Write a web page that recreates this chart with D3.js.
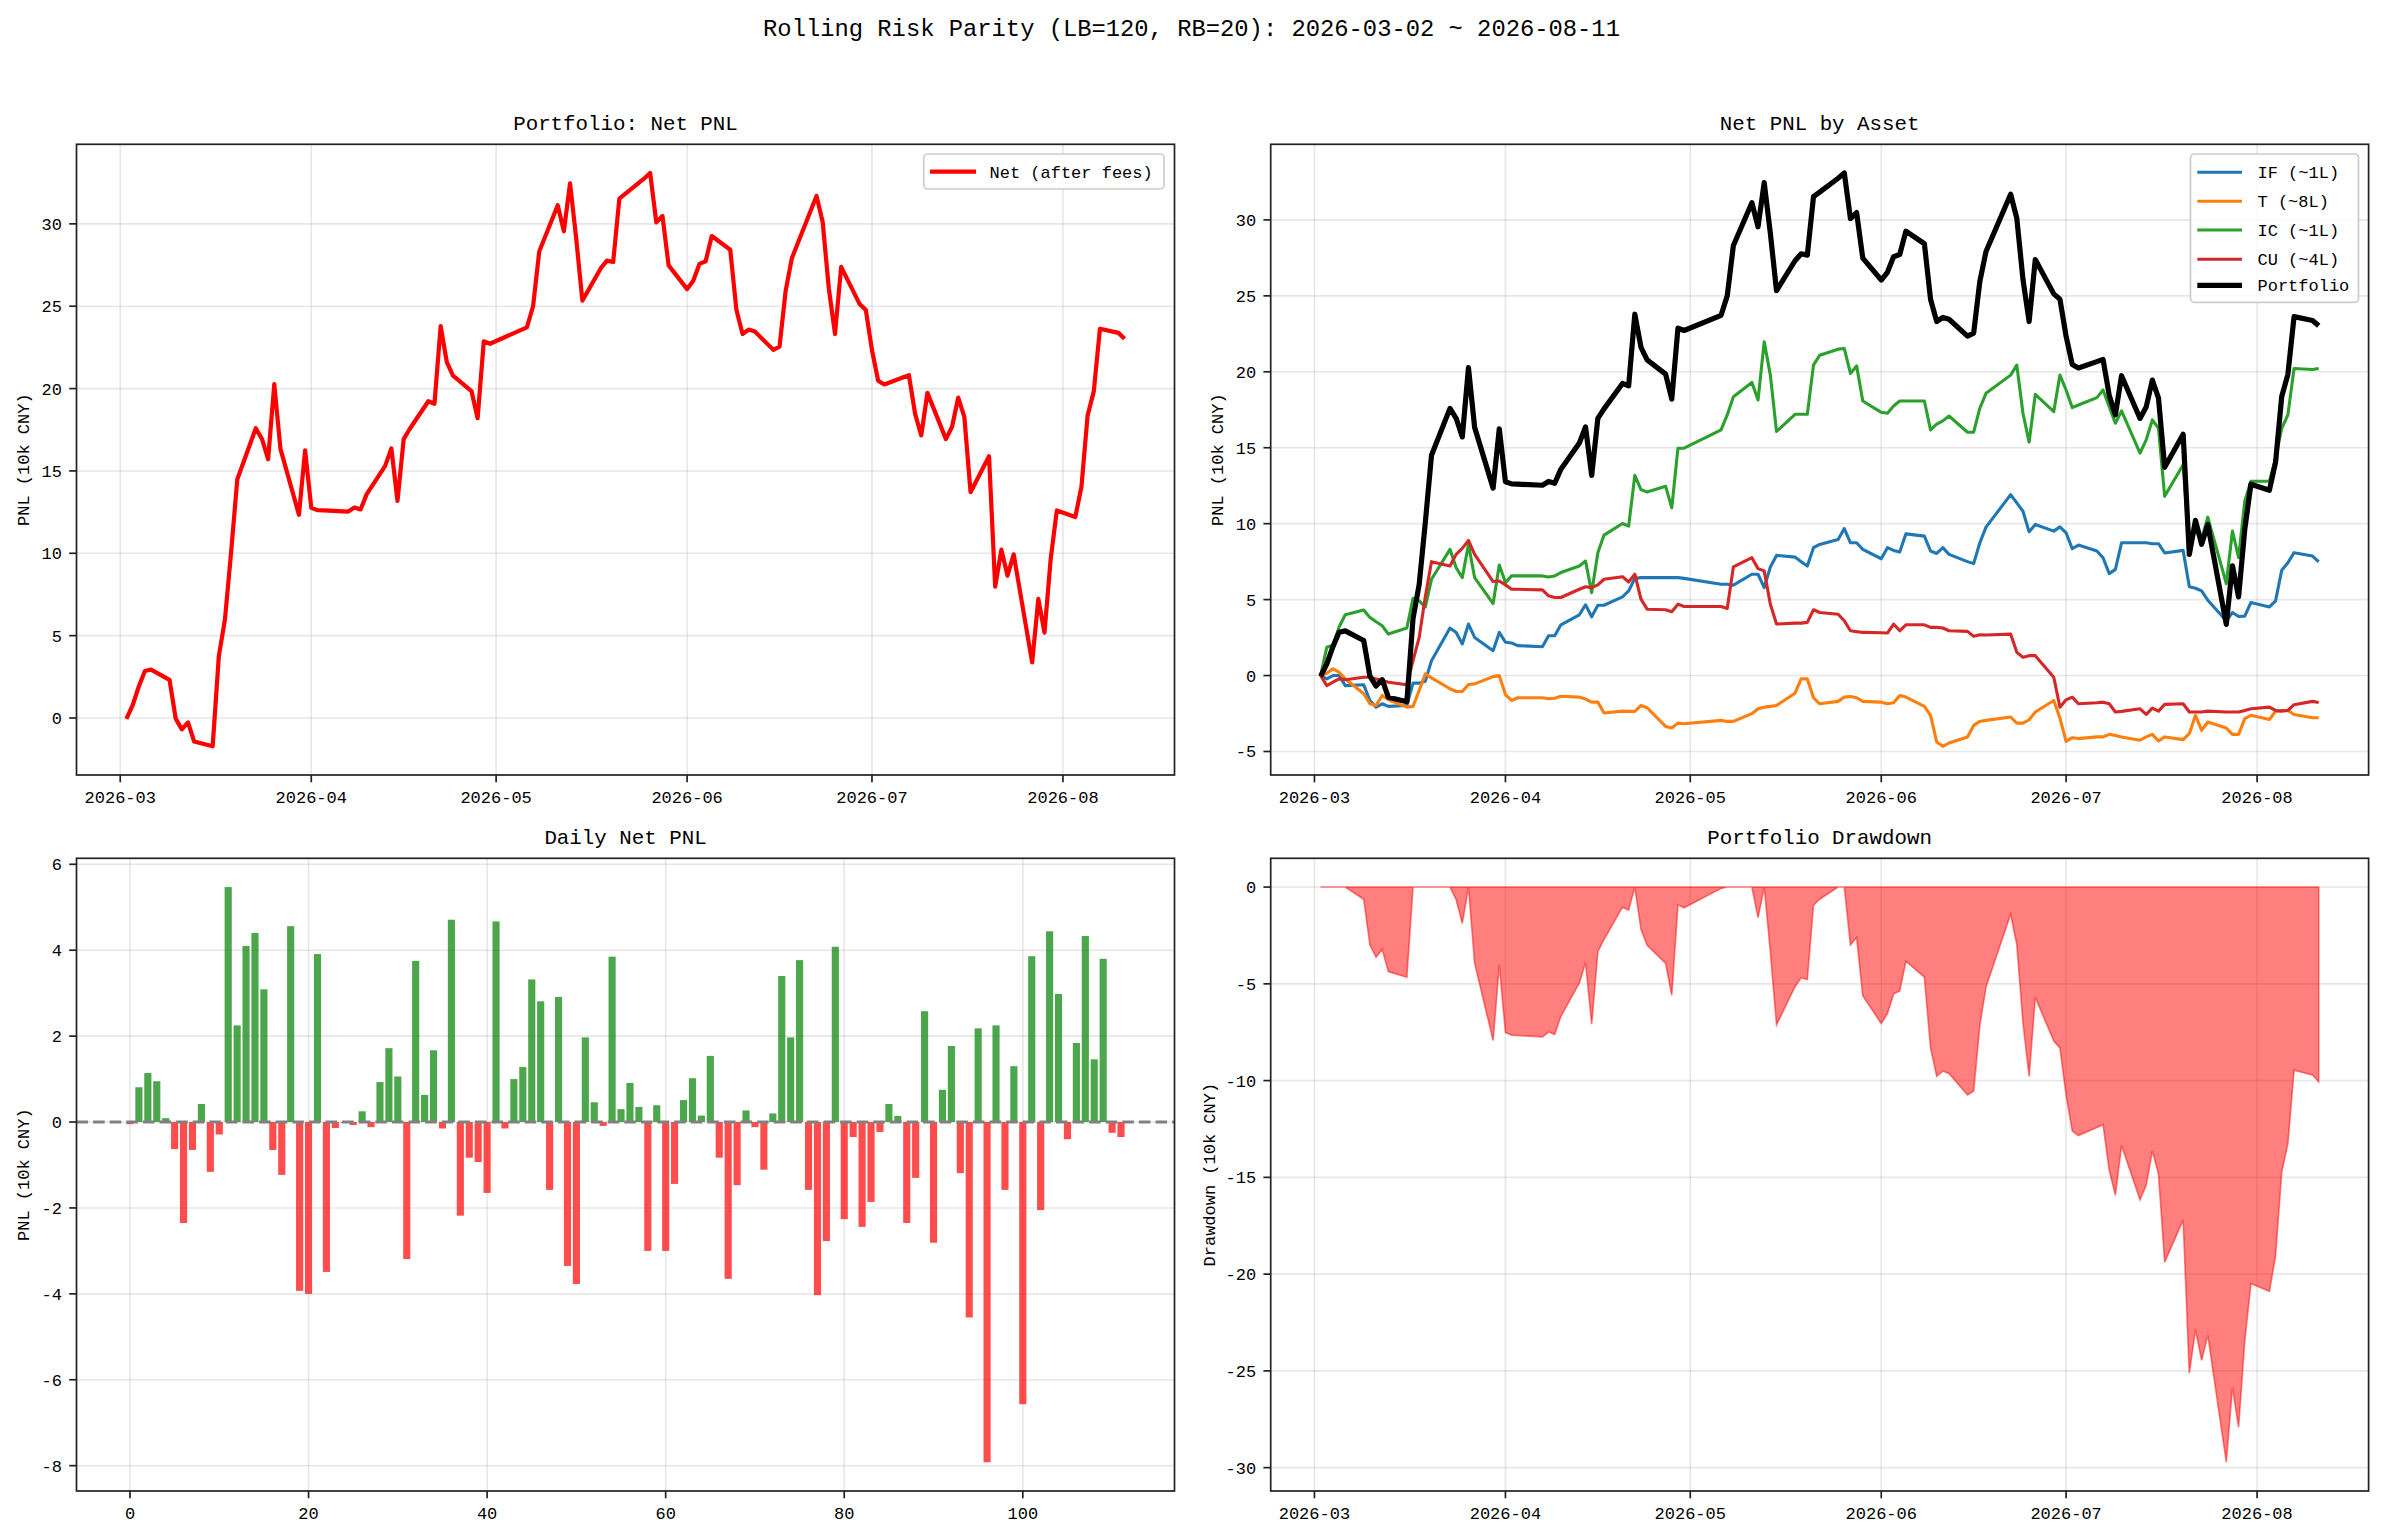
<!DOCTYPE html>
<html>
<head>
<meta charset="utf-8">
<script src="https://cdn.jsdelivr.net/npm/d3@7"></script>
<style>
  body { margin: 0; background: #fff; }
  text { font-family: "Liberation Mono", "DejaVu Sans Mono", monospace; fill: #000; }
</style>
</head>
<body>
<svg id="fig" width="2383" height="1536"></svg>
<script>
// trading days
var dates = [
  "2026-03-02","2026-03-03","2026-03-04","2026-03-05","2026-03-06","2026-03-09","2026-03-10","2026-03-11","2026-03-12","2026-03-13",
  "2026-03-16","2026-03-17","2026-03-18","2026-03-19","2026-03-20","2026-03-23","2026-03-24","2026-03-25","2026-03-26","2026-03-27",
  "2026-03-30","2026-03-31","2026-04-01","2026-04-02","2026-04-03","2026-04-07","2026-04-08","2026-04-09","2026-04-10","2026-04-13",
  "2026-04-14","2026-04-15","2026-04-16","2026-04-17","2026-04-20","2026-04-21","2026-04-22","2026-04-23","2026-04-24","2026-04-27",
  "2026-04-28","2026-04-29","2026-04-30","2026-05-06","2026-05-07","2026-05-08","2026-05-11","2026-05-12","2026-05-13","2026-05-14",
  "2026-05-15","2026-05-18","2026-05-19","2026-05-20","2026-05-21","2026-05-22","2026-05-25","2026-05-26","2026-05-27","2026-05-28",
  "2026-05-29","2026-06-01","2026-06-02","2026-06-03","2026-06-04","2026-06-05","2026-06-08","2026-06-09","2026-06-10","2026-06-11",
  "2026-06-12","2026-06-15","2026-06-16","2026-06-17","2026-06-18","2026-06-22","2026-06-23","2026-06-24","2026-06-25","2026-06-26",
  "2026-06-29","2026-06-30","2026-07-01","2026-07-02","2026-07-03","2026-07-06","2026-07-07","2026-07-08","2026-07-09","2026-07-10",
  "2026-07-13","2026-07-14","2026-07-15","2026-07-16","2026-07-17","2026-07-20","2026-07-21","2026-07-22","2026-07-23","2026-07-24",
  "2026-07-27","2026-07-28","2026-07-29","2026-07-30","2026-07-31","2026-08-03","2026-08-04","2026-08-05","2026-08-06","2026-08-07",
  "2026-08-10","2026-08-11"
];

// daily net pnl (10k CNY)
var dailyNet = [
  -0.05, 0.81, 1.14, 0.95, 0.09, -0.63, -2.35, -0.65, 0.42, -1.16,
  -0.29, 5.47, 2.25, 4.10, 4.40, 3.09, -0.65, -1.23, 4.56, -3.93,
  -4.00, 3.91, -3.49, -0.14, -0.02, -0.07, 0.25, -0.12, 0.93, 1.72,
  1.06, -3.19, 3.75, 0.63, 1.67, -0.15, 4.71, -2.18, -0.83, -0.93,
  -1.65, 4.67, -0.15, 1.00, 1.28, 3.32, 2.81, -1.58, 2.91, -3.35,
  -3.77, 1.97, 0.46, -0.09, 3.85, 0.30, 0.91, 0.35, -3.00, 0.39,
  -3.00, -1.44, 0.51, 1.02, 0.15, 1.54, -0.83, -3.65, -1.47, 0.27,
  -0.12, -1.11, 0.20, 3.40, 1.97, 3.77, -1.58, -4.03, -2.77, 4.08,
  -2.26, -0.35, -2.44, -1.86, -0.23, 0.42, 0.14, -2.35, -1.30, 2.58,
  -2.81, 0.75, 1.77, -1.19, -4.55, 2.18, -7.92, 2.25, -1.58, 1.30,
  -6.57, 3.86, -2.05, 4.44, 2.98, -0.40, 1.84, 4.33, 1.46, 3.80,
  -0.25, -0.35
];

// cumulative net pnl per asset
var pnlIF = [
  0, -0.22, 0, 0, -0.66, -0.61, -1.64, -2.08, -1.86, -2.03,
  -1.97, -0.5, -0.5, -0.37, 0.98, 3.13, 2.84, 2.08, 3.39, 2.51,
  1.64, 2.84, 2.19, 2.14, 1.97, 1.90, 2.62, 2.62, 3.34, 4.0,
  4.66, 3.87, 4.63, 4.63, 5.18, 5.57, 6.4, 6.45, 6.45, 6.45,
  6.45, 6.45, 6.4, 6.01, 6.01, 5.95, 6.67, 6.67, 5.79, 7.15,
  7.91, 7.8, 7.5, 7.21, 8.42, 8.63, 8.96, 9.68, 8.74, 8.74,
  8.31, 7.69, 8.42, 8.24, 8.13, 9.33, 9.18, 8.2, 8.04, 8.42,
  7.98, 7.5, 7.37, 8.74, 9.77, 11.91, 11.37, 10.82, 9.46, 9.95,
  9.51, 9.79, 9.4, 8.35, 8.59, 8.2, 7.76, 6.71, 6.99, 8.74,
  8.74, 8.74, 8.68, 8.68, 8.07, 8.24, 5.84, 5.75, 5.57, 4.96,
  3.61, 4.15, 3.89, 3.91, 4.81, 4.52, 4.92, 6.93, 7.43, 8.09,
  7.87, 7.48
];
var pnlT = [
  0, 0.15, 0.44, 0.22, -0.22, -1.2, -1.86, -1.97, -1.31, -1.6,
  -2.08, -2.03, -0.98, 0.11, -0.15, -0.87, -1.05, -1.05, -0.59, -0.55,
  -0.07, 0, -1.25, -1.64, -1.46, -1.46, -1.53, -1.49, -1.36, -1.42,
  -1.55, -1.75, -1.75, -2.47, -2.34, -2.36, -2.36, -1.97, -2.12, -3.35,
  -3.45, -3.13, -3.17, -2.95, -3.02, -3.02, -2.51, -2.19, -2.08, -2.03,
  -1.97, -1.16, -0.22, -0.22, -1.46, -1.86, -1.7, -1.42, -1.38, -1.46,
  -1.7, -1.75, -1.86, -1.79, -1.31, -1.42, -2.03, -2.62, -4.37, -4.66,
  -4.44, -4.04, -3.28, -3.02, -2.95, -2.73, -3.13, -3.13, -2.91, -2.4,
  -1.64, -2.8, -4.33, -4.09, -4.15, -4.04, -4.04, -3.87, -3.95, -4.04,
  -4.26, -4.04, -3.87, -4.31, -4.04, -4.22, -3.83, -2.62, -3.61, -3.06,
  -3.45, -3.87, -3.87, -2.84, -2.62, -2.89, -2.36, -2.3, -2.3, -2.56,
  -2.78, -2.78
];
var pnlIC = [
  0, 1.86, 2.0, 3.2, 4.0, 4.31, 3.83, 3.54, 3.28, 2.73,
  3.13, 5.09, 4.92, 4.52, 6.34, 8.31, 7.10, 6.45, 8.63, 6.45,
  4.74, 7.28, 6.12, 6.56, 6.56, 6.56, 6.49, 6.56, 6.78, 7.21,
  7.54, 5.46, 8.09, 9.25, 10.01, 9.84, 13.18, 12.24, 12.09, 12.46,
  11.04, 14.97, 14.97, 16.17, 17.16, 18.36, 19.3, 18.14, 21.97, 19.78,
  16.07, 17.2, 17.2, 17.2, 20.44, 21.09, 21.49, 21.53, 19.89, 20.39,
  18.08, 17.33, 17.27, 17.75, 18.08, 18.08, 18.08, 16.17, 16.55, 16.77,
  17.09, 16.02, 16.02, 17.6, 18.58, 19.78, 20.44, 17.27, 15.37, 18.51,
  17.38, 19.78, 18.8, 17.64, 17.81, 18.3, 18.8, 17.7, 16.61, 17.42,
  14.64, 15.52, 16.83, 16.28, 11.8, 13.88, 8.31, 9.61, 9.02, 10.43,
  6.05, 9.51, 7.76, 11.48, 12.79, 12.79, 14.32, 16.28, 17.16, 20.22,
  20.15, 20.22
];
var pnlCU = [
  0, -0.66, -0.44, -0.22, -0.28, -0.11, -0.11, -0.22, -0.33, -0.44,
  -0.61, 0.98, 2.51, 5.2, 7.5, 7.21, 7.98, 8.37, 8.9, 7.98,
  6.19, 6.23, 5.97, 5.68, 5.68, 5.64, 5.25, 5.14, 5.14, 5.68,
  5.85, 5.79, 5.97, 6.34, 6.51, 6.16, 6.67, 5.03, 4.37, 4.33,
  4.2, 4.7, 4.55, 4.55, 4.42, 7.15, 7.76, 7.04, 6.89, 4.7,
  3.39, 3.45, 3.45, 3.5, 4.33, 4.15, 4.04, 3.61, 2.95, 2.89,
  2.84, 2.82, 2.8, 3.39, 2.95, 3.34, 3.34, 3.17, 3.17, 3.13,
  2.95, 2.91, 2.58, 2.69, 2.67, 2.73, 1.53, 1.2, 1.31, 1.31,
  -0.11, -2.08, -1.6, -1.42, -1.86, -1.79, -1.75, -1.86, -2.4, -2.36,
  -2.19, -2.56, -2.14, -2.34, -1.9, -1.86, -2.4, -2.4, -2.4, -2.34,
  -2.4, -2.4, -2.4, -2.3, -2.19, -2.08, -2.3, -2.34, -2.3, -1.92,
  -1.7, -1.77
];

var assetNames = ["IF (~1L)", "T (~8L)", "IC (~1L)", "CU (~4L)"];
var assetColors = ["#1f77b4", "#ff7f0e", "#2ca02c", "#d62728"];

var monthTicks = ["2026-03-01","2026-04-01","2026-05-01","2026-06-01","2026-07-01","2026-08-01"];
var netTicks = [0, 5, 10, 15, 20, 25, 30];
var assetTicks = [-5, 0, 5, 10, 15, 20, 25, 30];
var dailyTicks = [-8, -6, -4, -2, 0, 2, 4, 6];
var dayTicks = [0, 20, 40, 60, 80, 100];
var ddTicks = [-30, -25, -20, -15, -10, -5, 0];

var parse = d3.utcParse("%Y-%m-%d");
var dts = dates.map(parse);
var cum = Array.from(d3.cumsum(dailyNet));
var peak = -Infinity;
var drawdown = cum.map(function(v) { peak = Math.max(peak, v); return v - peak; });

var svg = d3.select("#fig");
svg.append("rect").attr("width", 2383).attr("height", 1536).attr("fill", "#fff");

// suptitle
svg.append("text")
  .attr("x", 1191.5).attr("y", 36)
  .attr("text-anchor", "middle")
  .style("font-size", "23.8px")
  .text("Rolling Risk Parity (LB=120, RB=20): 2026-03-02 ~ 2026-08-11");

// panel boxes
var boxes = {
  tl: {l: 76.5, r: 1174.5, t: 144.3, b: 775},
  tr: {l: 1270.7, r: 2368.6, t: 144.3, b: 775},
  bl: {l: 76.5, r: 1174.5, t: 858.3, b: 1491},
  br: {l: 1270.7, r: 2368.6, t: 858.3, b: 1491}
};

function padded(lo, hi) {
  var m = (hi - lo) * 0.05;
  return [lo - m, hi + m];
}

var t0 = dts[0].getTime(), t1 = dts[dts.length - 1].getTime();
function timeScale(box) {
  var d = padded(t0, t1);
  return d3.scaleUtc().domain([new Date(d[0]), new Date(d[1])]).range([box.l, box.r]);
}

// axes frame: grid, ticks, labels, title
function drawAxes(key, x, y, xTicks, yTicks, xFmt, title, ylabel, ylabelOff) {
  var box = boxes[key];
  var g = svg.append("g");
  var grid = g.append("g").attr("stroke", "#b0b0b0").attr("stroke-opacity", 0.3).attr("stroke-width", 1.6);
  xTicks.forEach(function(v) {
    grid.append("line").attr("x1", x(v)).attr("x2", x(v)).attr("y1", box.t).attr("y2", box.b);
  });
  yTicks.forEach(function(v) {
    grid.append("line").attr("x1", box.l).attr("x2", box.r).attr("y1", y(v)).attr("y2", y(v));
  });

  svg.append("defs").append("clipPath").attr("id", "clip-" + key)
    .append("rect").attr("x", box.l).attr("y", box.t)
    .attr("width", box.r - box.l).attr("height", box.b - box.t);

  var plot = svg.append("g").attr("clip-path", "url(#clip-" + key + ")");

  return {
    plot: plot,
    finish: function() {
      var f = svg.append("g");
      f.append("rect")
        .attr("x", box.l).attr("y", box.t)
        .attr("width", box.r - box.l).attr("height", box.b - box.t)
        .attr("fill", "none").attr("stroke", "#222").attr("stroke-width", 1.7);
      xTicks.forEach(function(v) {
        f.append("line").attr("x1", x(v)).attr("x2", x(v))
          .attr("y1", box.b).attr("y2", box.b + 7.3)
          .attr("stroke", "#222").attr("stroke-width", 1.7);
        f.append("text").attr("x", x(v)).attr("y", box.b + 28)
          .attr("text-anchor", "middle").style("font-size", "17px")
          .text(xFmt(v));
      });
      yTicks.forEach(function(v) {
        f.append("line").attr("x1", box.l - 7.3).attr("x2", box.l)
          .attr("y1", y(v)).attr("y2", y(v))
          .attr("stroke", "#222").attr("stroke-width", 1.7);
        f.append("text").attr("x", box.l - 14.5).attr("y", y(v) + 6)
          .attr("text-anchor", "end").style("font-size", "17px")
          .text(String(v));
      });
      f.append("text")
        .attr("x", (box.l + box.r) / 2).attr("y", box.t - 14.5)
        .attr("text-anchor", "middle").style("font-size", "20.8px")
        .text(title);
      var cy = (box.t + box.b) / 2;
      f.append("text")
        .attr("transform", "translate(" + (box.l - ylabelOff) + "," + cy + ") rotate(-90)")
        .attr("text-anchor", "middle").style("font-size", "17px")
        .text(ylabel);
    }
  };
}

var monthDates = monthTicks.map(parse);
var monthFmt = d3.utcFormat("%Y-%m");

// ---- Top left: Portfolio net PNL ----
(function() {
  var box = boxes.tl;
  var x = timeScale(box);
  var y = d3.scaleLinear().domain(padded(d3.min(cum), d3.max(cum))).range([box.b, box.t]);
  var ax = drawAxes("tl", x, y, monthDates, netTicks, monthFmt, "Portfolio: Net PNL", "PNL (10k CNY)", 47.5);
  var line = d3.line().x(function(d, i) { return x(dts[i]); }).y(function(d) { return y(d); });
  ax.plot.append("path").datum(cum)
    .attr("d", line).attr("fill", "none")
    .attr("stroke", "#ff0000").attr("stroke-width", 4.2).attr("stroke-linejoin", "round");
  ax.finish();

  // legend
  var lg = svg.append("g");
  lg.append("rect").attr("x", 923.7).attr("y", 154).attr("width", 240.3).attr("height", 35)
    .attr("rx", 4).attr("fill", "#fff").attr("fill-opacity", 0.8)
    .attr("stroke", "#cccccc").attr("stroke-width", 1.7);
  lg.append("line").attr("x1", 930).attr("x2", 976).attr("y1", 171.6).attr("y2", 171.6)
    .attr("stroke", "#ff0000").attr("stroke-width", 4.2);
  lg.append("text").attr("x", 989.5).attr("y", 177.5).style("font-size", "17px").text("Net (after fees)");
})();

// ---- Top right: Net PNL by asset ----
(function() {
  var box = boxes.tr;
  var x = timeScale(box);
  var series = [pnlIF, pnlT, pnlIC, pnlCU];
  var all = d3.merge(series.concat([cum]));
  var y = d3.scaleLinear().domain(padded(d3.min(all), d3.max(all))).range([box.b, box.t]);
  var ax = drawAxes("tr", x, y, monthDates, assetTicks, monthFmt, "Net PNL by Asset", "PNL (10k CNY)", 47.5);
  var line = d3.line().x(function(d, i) { return x(dts[i]); }).y(function(d) { return y(d); });
  series.forEach(function(s, k) {
    ax.plot.append("path").datum(s)
      .attr("d", line).attr("fill", "none")
      .attr("stroke", assetColors[k]).attr("stroke-width", 3.1).attr("stroke-linejoin", "round");
  });
  ax.plot.append("path").datum(cum)
    .attr("d", line).attr("fill", "none")
    .attr("stroke", "#000").attr("stroke-width", 5.2).attr("stroke-linejoin", "round");
  ax.finish();

  // legend
  var lg = svg.append("g");
  lg.append("rect").attr("x", 2190.5).attr("y", 154).attr("width", 168).attr("height", 148.3)
    .attr("rx", 4).attr("fill", "#fff").attr("fill-opacity", 0.8)
    .attr("stroke", "#cccccc").attr("stroke-width", 1.7);
  var rows = [172.3, 201.2, 230, 259.3, 285.3];
  var names = assetNames.concat(["Portfolio"]);
  var cols = assetColors.concat(["#000"]);
  names.forEach(function(n, i) {
    lg.append("line").attr("x1", 2197.3).attr("x2", 2242).attr("y1", rows[i]).attr("y2", rows[i])
      .attr("stroke", cols[i]).attr("stroke-width", i === 4 ? 5.2 : 3.1);
    lg.append("text").attr("x", 2257.5).attr("y", rows[i] + 6).style("font-size", "17px").text(n);
  });
})();

// ---- Bottom left: daily net PNL bars ----
(function() {
  var box = boxes.bl;
  var n = dailyNet.length;
  var x = d3.scaleLinear().domain(padded(-0.4, n - 1 + 0.4)).range([box.l, box.r]);
  var y = d3.scaleLinear().domain(padded(Math.min(0, d3.min(dailyNet)), Math.max(0, d3.max(dailyNet)))).range([box.b, box.t]);
  var ax = drawAxes("bl", x, y, dayTicks, dailyTicks, String, "Daily Net PNL", "PNL (10k CNY)", 47.5);
  var bw = x(0.8) - x(0);
  ax.plot.append("g").selectAll("rect")
    .data(dailyNet)
    .enter()
    .append("rect")
    .attr("x", function(d, i) { return x(i - 0.4); })
    .attr("y", function(d) { return y(Math.max(0, d)); })
    .attr("width", bw)
    .attr("height", function(d) { return Math.abs(y(d) - y(0)); })
    .attr("fill", function(d) { return d >= 0 ? "#008000" : "#ff0000"; })
    .attr("fill-opacity", 0.7);
  ax.plot.append("line")
    .attr("x1", box.l).attr("x2", box.r).attr("y1", y(0)).attr("y2", y(0))
    .attr("stroke", "#808080").attr("stroke-width", 3.1)
    .attr("stroke-dasharray", "11.6,5");
  ax.finish();
})();

// ---- Bottom right: drawdown ----
(function() {
  var box = boxes.br;
  var x = timeScale(box);
  var y = d3.scaleLinear().domain(padded(d3.min(drawdown), 0)).range([box.b, box.t]);
  var ax = drawAxes("br", x, y, monthDates, ddTicks, monthFmt, "Portfolio Drawdown", "Drawdown (10k CNY)", 56);
  var area = d3.area()
    .x(function(d, i) { return x(dts[i]); })
    .y0(y(0))
    .y1(function(d) { return y(d); });
  ax.plot.append("path").datum(drawdown)
    .attr("d", area)
    .attr("fill", "#ff0000").attr("fill-opacity", 0.5)
    .attr("stroke", "#ff0000").attr("stroke-opacity", 0.5).attr("stroke-width", 1.6);
  ax.finish();
})();
</script>
</body>
</html>
